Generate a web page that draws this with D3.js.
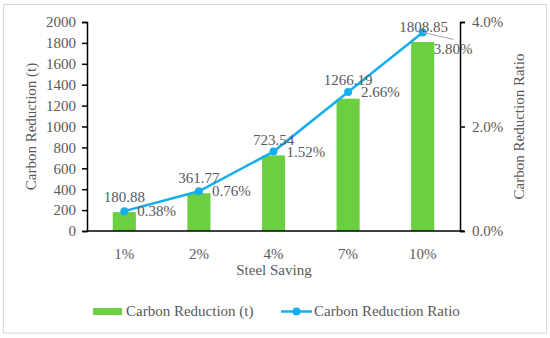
<!DOCTYPE html>
<html><head><meta charset="utf-8">
<script src="https://cdn.jsdelivr.net/npm/d3@7"></script>
<style>
html,body{margin:0;padding:0;background:#fff;}
text{font-family:"Liberation Serif","Times New Roman",serif;fill:#595959;}
</style></head>
<body>
<svg id="chart" width="550" height="338"></svg>
<script>
const categories = ["1%", "2%", "4%", "7%", "10%"];
const carbonReduction = [180.88, 361.77, 723.54, 1266.19, 1808.85];
const carbonRatio = [0.38, 0.76, 1.52, 2.66, 3.80];
const leftTicks = [0, 200, 400, 600, 800, 1000, 1200, 1400, 1600, 1800, 2000];
const rightTicks = [0, 2, 4];

const svg = d3.select("#chart");
const m = {left: 87, right: 460, top: 22, bottom: 231};
const green = "#6CCF41", blue = "#15AEEF", grey = "#595959";
const fs = 15;

svg.append("rect").attr("x", 3.5).attr("y", 4.5).attr("width", 543).attr("height", 328.5)
  .attr("fill", "#fff").attr("stroke", "#d9d9d9").attr("stroke-width", 1);

const x = d3.scaleBand().domain(categories).range([m.left, m.right]).padding(0);
const y = d3.scaleLinear().domain([0, 2000]).range([m.bottom, m.top]);
const y2 = d3.scaleLinear().domain([0, 4]).range([m.bottom, m.top]);
const barW = x.bandwidth() * 0.31;
const cx = d => x(d) + x.bandwidth() / 2;

// bars
svg.append("g").selectAll("rect").data(categories).join("rect")
  .attr("x", (d) => cx(d) - barW / 2)
  .attr("y", (d, i) => y(carbonReduction[i]))
  .attr("width", barW)
  .attr("height", (d, i) => y(0) - y(carbonReduction[i]))
  .attr("fill", green);

// left axis
const gl = svg.append("g").attr("transform", `translate(${m.left},0)`)
  .call(d3.axisLeft(y).tickValues(leftTicks).tickSize(5).tickPadding(6).tickFormat(d3.format("d")));
gl.select(".domain").attr("stroke", "#000").attr("stroke-width", 1.5);
gl.selectAll(".tick line").attr("stroke", "#000").attr("stroke-width", 1.5);
gl.selectAll("text").attr("font-size", fs).attr("fill", grey).attr("font-family", "Liberation Serif");

// right axis
const gr = svg.append("g").attr("transform", `translate(${m.right},0)`)
  .call(d3.axisRight(y2).tickValues(rightTicks).tickSize(5).tickPadding(7).tickFormat(d => d.toFixed(1) + "%"));
gr.select(".domain").attr("stroke", "#000").attr("stroke-width", 1.5);
gr.selectAll(".tick line").attr("stroke", "#000").attr("stroke-width", 1.5);
gr.selectAll("text").attr("font-size", fs).attr("fill", grey).attr("font-family", "Liberation Serif");

// bottom axis
const gb = svg.append("g").attr("transform", `translate(0,${m.bottom})`)
  .call(d3.axisBottom(x).tickSize(0).tickPadding(17));
gb.select(".domain").attr("d", `M${m.left},0H${m.right + 4}`).attr("stroke", "#000").attr("stroke-width", 1.5);
gb.selectAll("text").attr("font-size", fs).attr("fill", grey).attr("font-family", "Liberation Serif");

// axis titles
svg.append("text").attr("x", 274).attr("y", 275).attr("text-anchor", "middle")
  .attr("font-size", fs).text("Steel Saving");
svg.append("text").attr("transform", `translate(36,${(m.top + m.bottom) / 2}) rotate(-90)`)
  .attr("text-anchor", "middle").attr("font-size", fs).text("Carbon Reduction (t)");
svg.append("text").attr("transform", `translate(524,${(m.top + m.bottom) / 2}) rotate(-90)`)
  .attr("text-anchor", "middle").attr("font-size", fs).text("Carbon Reduction Ratio");

// line
const line = d3.line().x((d, i) => cx(categories[i])).y(d => y2(d));
svg.append("path").datum(carbonRatio).attr("d", line)
  .attr("fill", "none").attr("stroke", blue).attr("stroke-width", 2.5);
svg.append("g").selectAll("circle").data(carbonRatio).join("circle")
  .attr("cx", (d, i) => cx(categories[i])).attr("cy", d => y2(d)).attr("r", 4).attr("fill", blue);

// data labels
const valDy = [-9, -8, -7, -7, 0];
svg.append("g").selectAll("text").data(carbonReduction).join("text")
  .attr("x", (d, i) => cx(categories[i]) + (i === 4 ? 1 : 0))
  .attr("y", (d, i) => y2(carbonRatio[i]) + valDy[i])
  .attr("text-anchor", "middle").attr("font-size", fs)
  .text(d => d.toFixed(2));

svg.append("g").selectAll("text").data(carbonRatio).join("text")
  .attr("x", (d, i) => cx(categories[i]) + (i === 4 ? 11 : 13))
  .attr("y", (d, i) => y2(d) + (i === 4 ? 22 : 5))
  .attr("font-size", fs)
  .text(d => d.toFixed(2) + "%");

// leader line for last label
const lx = cx(categories[4]), ly = y2(carbonRatio[4]);
svg.append("line").attr("x1", lx).attr("y1", ly).attr("x2", lx + 31).attr("y2", ly + 7)
  .attr("stroke", "#a6a6a6").attr("stroke-width", 1);

// legend
const lg = svg.append("g");
lg.append("rect").attr("x", 93).attr("y", 308).attr("width", 29).attr("height", 7).attr("fill", green);
lg.append("text").attr("x", 126).attr("y", 316).attr("font-size", fs).text("Carbon Reduction (t)");
lg.append("line").attr("x1", 281).attr("x2", 312).attr("y1", 311.5).attr("y2", 311.5)
  .attr("stroke", blue).attr("stroke-width", 2.5);
lg.append("circle").attr("cx", 296.5).attr("cy", 311.5).attr("r", 4).attr("fill", blue);
lg.append("text").attr("x", 314).attr("y", 316).attr("font-size", fs).text("Carbon Reduction Ratio");
</script>
</body></html>
